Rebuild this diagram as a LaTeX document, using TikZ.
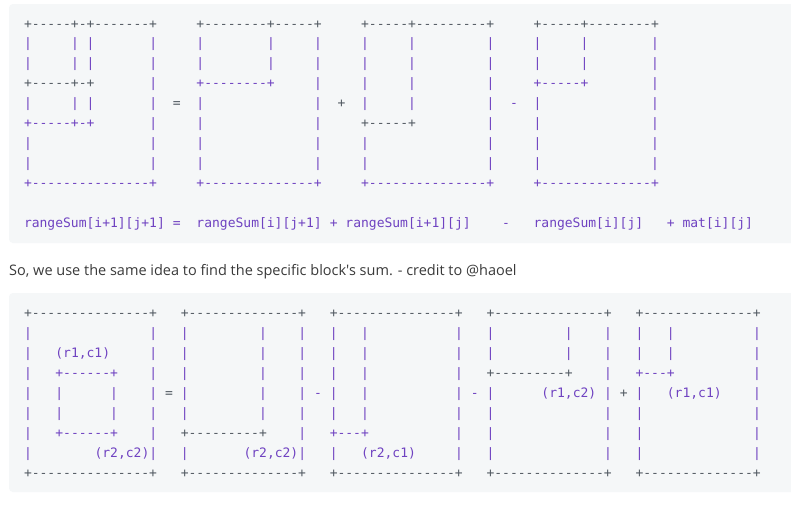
\documentclass[tikz,border=0pt]{standalone}
\usepackage{fontspec}
\setmonofont{DejaVu Sans Mono}
\setsansfont{Open Sans}[Ligatures=TeXOff]
\definecolor{pur}{HTML}{6F42C1}
\definecolor{gry}{HTML}{525A62}
\definecolor{codebg}{HTML}{F5F7F8}
\definecolor{txt}{HTML}{3A3A3A}
\newcommand\xz{23.8}
\newcommand\cw{7.84}
\newcommand\segA[4]{\node[cd,#3] (a#1c#2) at ({\xz+#2*\cw},{28+#1*19.95}) {#4};}
\newcommand\segB[4]{\node[cd,#3] (b#1c#2) at ({\xz+#2*\cw},{317.5+#1*20}) {#4};}
\newcommand\barsA[2]{\foreach \c in {#2}{\segA{#1}{\c}{pur}{|}}}
\newcommand\barsB[2]{\foreach \c in {#2}{\segB{#1}{\c}{pur}{|}}}
\begin{document}
\begin{tikzpicture}[x=1pt,y=-1pt,
  cd/.style={font=\ttfamily\fontsize{13}{13}\selectfont, inner sep=0pt, anchor=base west},
  codeblock/.style={fill=codebg, rounded corners=4pt, draw=none}]
\useasboundingbox[fill=white] (0,0) rectangle (791,507);
\fill[codeblock] (9,4) rectangle (798,243);
\fill[codeblock] (9,293) rectangle (798,492);
% ---------------- block 1 ----------------
\segA{0}{0}{gry}{+-----+-+-------+}
\segA{0}{22}{gry}{+--------+-----+}
\segA{0}{43}{gry}{+-----+---------+}
\segA{0}{65}{gry}{+-----+--------+}
\barsA{1}{0,6,8,16,22,31,37,43,49,59,65,71,80}
\barsA{2}{0,6,8,16,22,31,37,43,49,59,65,71,80}
\segA{3}{0}{gry}{+-----+-+}
\segA{3}{22}{pur}{+--------+}
\segA{3}{65}{pur}{+-----+}
\barsA{3}{16,37,43,49,59,80}
\barsA{4}{0,6,8,16,22,37,43,49,59,65,80}
\segA{4}{19}{gry}{=}
\segA{4}{40}{gry}{+}
\segA{4}{62}{pur}{-}
\segA{5}{0}{pur}{+-----+-+}
\segA{5}{43}{gry}{+-----+}
\barsA{5}{16,22,37,59,65,80}
\barsA{6}{0,16,22,37,43,59,65,80}
\barsA{7}{0,16,22,37,43,59,65,80}
\segA{8}{0}{pur}{+---------------+}
\segA{8}{22}{pur}{+--------------+}
\segA{8}{43}{pur}{+---------------+}
\segA{8}{65}{pur}{+--------------+}
\segA{10}{0}{pur}{rangeSum[i+1][j+1]}
\segA{10}{19}{pur}{=}
\segA{10}{22}{pur}{rangeSum[i][j+1]}
\segA{10}{39}{pur}{+}
\segA{10}{41}{pur}{rangeSum[i+1][j]}
\segA{10}{61}{pur}{-}
\segA{10}{65}{pur}{rangeSum[i][j]}
\segA{10}{82}{pur}{+}
\segA{10}{84}{pur}{mat[i][j]}
% ---------------- sentence ----------------
\node[font=\sffamily\fontsize{14.5}{17}\selectfont, text=txt, anchor=base west, inner sep=0pt] (sent) at (9,275)
  {So, we use the same idea to find the specific block's sum. - credit to @haoel};
% ---------------- block 2 ----------------
\segB{0}{0}{gry}{+---------------+}
\segB{0}{20}{gry}{+--------------+}
\segB{0}{39}{gry}{+---------------+}
\segB{0}{59}{gry}{+--------------+}
\segB{0}{78}{gry}{+--------------+}
\barsB{1}{0,16,20,30,35,39,43,55,59,69,74,78,82,93}
\barsB{2}{0,16,20,30,35,39,43,55,59,69,74,78,82,93}
\segB{2}{4}{pur}{(r1,c1)}
\barsB{3}{0,16,20,30,35,39,43,55,74,93}
\segB{3}{4}{pur}{+------+}
\segB{3}{59}{gry}{+---------+}
\segB{3}{78}{pur}{+---+}
\barsB{4}{0,4,11,16,20,30,35,39,43,55,59,74,78,93}
\segB{4}{18}{gry}{=}
\segB{4}{37}{pur}{-}
\segB{4}{57}{pur}{-}
\segB{4}{66}{pur}{(r1,c2)}
\segB{4}{76}{gry}{+}
\segB{4}{82}{pur}{(r1,c1)}
\barsB{5}{0,4,11,16,20,30,35,39,43,55,59,74,78,93}
\barsB{6}{0,16,35,55,59,74,78,93}
\segB{6}{4}{pur}{+------+}
\segB{6}{20}{gry}{+---------+}
\segB{6}{39}{pur}{+---+}
\barsB{7}{0,16,20,35,39,55,59,74,78,93}
\segB{7}{9}{pur}{(r2,c2)}
\segB{7}{28}{pur}{(r2,c2)}
\segB{7}{43}{pur}{(r2,c1)}
\segB{8}{0}{gry}{+---------------+}
\segB{8}{20}{gry}{+--------------+}
\segB{8}{39}{gry}{+---------------+}
\segB{8}{59}{gry}{+--------------+}
\segB{8}{78}{gry}{+--------------+}
\end{tikzpicture}
\end{document}
